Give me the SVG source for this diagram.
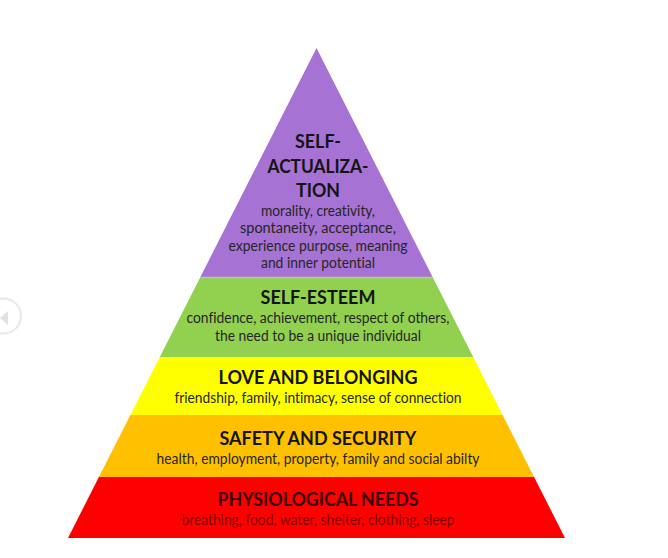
<svg xmlns="http://www.w3.org/2000/svg" width="668" height="558" viewBox="0 0 668 558">
  <style>
    .t { font-family: Lato, "Open Sans", "Liberation Sans", sans-serif; font-weight: 700; font-size: 19.5px; fill: #141414; text-anchor: middle; font-variant-ligatures: none; }
    .b { font-family: Lato, "Open Sans", "Liberation Sans", sans-serif; font-weight: 400; font-size: 14.5px; fill: #262626; text-anchor: middle; font-variant-ligatures: none; }
    .rt { fill: #3a0000; }
    .rb { fill: #820000; }
  </style>
  <rect x="0" y="0" width="668" height="558" fill="#ffffff"/>
  <g id="nav">
    <circle cx="3.5" cy="316" r="17.5" fill="#ffffff" stroke="#e8e8e8" stroke-width="2"/>
    <polygon points="0,318 8,311 8,325" fill="#e2e2e2"/>
  </g>
  <g id="self-actualization">
    <polygon points="316.5,48 432.6,277 200.4,277" fill="#A672D4"/>
    <text class="t" x="318" y="148" textLength="46" lengthAdjust="spacingAndGlyphs">SELF-</text>
    <text class="t" x="318" y="173" textLength="101" lengthAdjust="spacingAndGlyphs">ACTUALIZA-</text>
    <text class="t" x="318" y="197" textLength="44" lengthAdjust="spacingAndGlyphs">TION</text>
    <text class="b" x="318" y="216" textLength="114" lengthAdjust="spacingAndGlyphs">morality, creativity,</text>
    <text class="b" x="318" y="233" textLength="156" lengthAdjust="spacingAndGlyphs">spontaneity, acceptance,</text>
    <text class="b" x="318" y="251" textLength="179" lengthAdjust="spacingAndGlyphs">experience purpose, meaning</text>
    <text class="b" x="318" y="268" textLength="114" lengthAdjust="spacingAndGlyphs">and inner potential</text>
  </g>
  <g id="self-esteem">
    <polygon points="200.4,277 432.6,277 473.2,357 159.8,357" fill="#92D050"/>
    <line x1="200.4" y1="277.5" x2="432.6" y2="277.5" stroke="#b7c9a8" stroke-width="1.5"/>
    <text class="t" x="318" y="304" textLength="115" lengthAdjust="spacingAndGlyphs">SELF-ESTEEM</text>
    <text class="b" x="318" y="323" textLength="263" lengthAdjust="spacingAndGlyphs">confidence, achievement, respect of others,</text>
    <text class="b" x="318" y="341" textLength="206" lengthAdjust="spacingAndGlyphs">the need to be a unique individual</text>
  </g>
  <g id="love-belonging">
    <polygon points="159.8,357 473.2,357 502.6,415 130.4,415" fill="#FFFF00"/>
    <text class="t" x="318" y="384" textLength="199" lengthAdjust="spacingAndGlyphs">LOVE AND BELONGING</text>
    <text class="b" x="318" y="403" textLength="287" lengthAdjust="spacingAndGlyphs">friendship, family, intimacy, sense of connection</text>
  </g>
  <g id="safety-security">
    <polygon points="130.4,415 502.6,415 534.1,477 98.9,477" fill="#FFC000"/>
    <text class="t" x="318" y="445" textLength="197" lengthAdjust="spacingAndGlyphs">SAFETY AND SECURITY</text>
    <text class="b" x="318" y="464" textLength="323" lengthAdjust="spacingAndGlyphs">health, employment, property, family and social abilty</text>
  </g>
  <g id="physiological-needs">
    <polygon points="98.9,477 534.1,477 565,538 68,538" fill="#FF0000"/>
    <text class="t rt" x="318" y="506" textLength="201" lengthAdjust="spacingAndGlyphs">PHYSIOLOGICAL NEEDS</text>
    <text class="b rb" x="318" y="525" textLength="273" lengthAdjust="spacingAndGlyphs">breathing, food, water, shelter, clothing, sleep</text>
  </g>
</svg>
